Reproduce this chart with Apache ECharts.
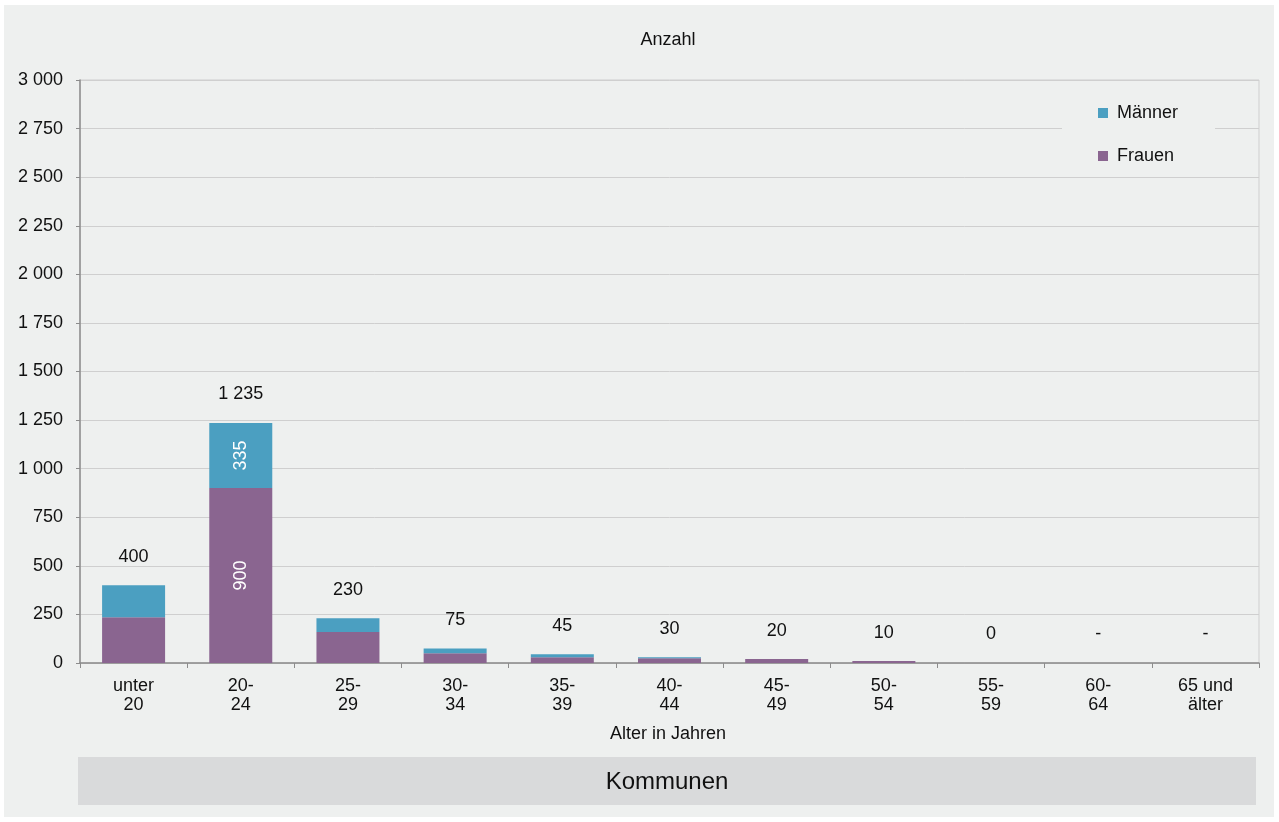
<!DOCTYPE html>
<html>
<head>
<meta charset="utf-8">
<script src="https://cdn.jsdelivr.net/npm/echarts@6/dist/echarts.min.js"></script>
<style>
html,body{margin:0;padding:0;background:#ffffff;width:1279px;height:822px;overflow:hidden;}
#panel{position:absolute;left:4px;top:5px;width:1270px;height:812px;background:#eef0ef;}
#chart{position:absolute;left:0;top:0;width:1270px;height:812px;}
</style>
</head>
<body>
<div id="panel"><div id="chart"></div></div>
<script>
const categories = ['unter\n20','20-\n24','25-\n29','30-\n34','35-\n39','40-\n44','45-\n49','50-\n54','55-\n59','60-\n64','65 und\nälter'];
const frauen = [235, 900, 160, 50, 30, 25, 20, 10, 0, 0, 0];
const maenner = [165, 335, 70, 25, 15, 5, 0, 0, 0, 0, 0];
const totalLabels = ['400','1 235','230','75','45','30','20','10','0','-','-'];
const totalValues = [400, 1235, 230, 75, 45, 30, 20, 10, 0, 0, 0];
const yTicks = { min: 0, max: 3000, interval: 250 };

const FONT = "'Liberation Sans', Arial, sans-serif";
const FS = 18;
const fmt = v => String(v).replace(/\B(?=(\d{3})+(?!\d))/g, ' ');

const chart = echarts.init(document.getElementById('chart'), null, {renderer:'canvas'});
chart.setOption({
  backgroundColor: 'transparent',
  animation: false,
  textStyle: { fontFamily: FONT, color: '#111111' },
  title: [
    { text: 'Anzahl', left: 664, top: 26, textAlign: 'center', padding: 0,
      textStyle: { fontFamily: FONT, fontSize: FS, fontWeight: 'normal', color: '#111111' } },
    { text: 'Alter in Jahren', left: 664, top: 720, textAlign: 'center', padding: 0,
      textStyle: { fontFamily: FONT, fontSize: FS, fontWeight: 'normal', color: '#111111' } }
  ],
  graphic: [
    { type: 'rect', left: 74, top: 752, shape: { width: 1178, height: 48 }, style: { fill: '#d9dadb' }, z: -1 },
    { type: 'text', x: 663, y: 777, style: { text: 'Kommunen', font: "24px 'Liberation Sans', Arial, sans-serif", fill: '#111111', textAlign: 'center', textVerticalAlign: 'middle' } }
  ],
  legend: {
    data: ['Männer', 'Frauen'],
    orient: 'vertical',
    left: 1058, top: 78,
    padding: [20, 37, 8, 36],
    backgroundColor: '#eef0ef',
    itemWidth: 10, itemHeight: 10, itemGap: 23,
    icon: 'rect',
    selectedMode: false,
    textStyle: { fontFamily: FONT, fontSize: FS, color: '#111111', lineHeight: 20, padding: [0,0,0,4] },
    z: 10
  },
  grid: { left: 76, top: 75, right: 15, bottom: 154, show: true, borderColor: '#cfcfcf', borderWidth: 1, backgroundColor: 'transparent' },
  xAxis: {
    type: 'category',
    data: categories,
    axisLine: { lineStyle: { color: '#8c8c8c', width: 1.5 } },
    axisTick: { show: true, length: 5, lineStyle: { color: '#8c8c8c' } },
    axisLabel: { fontFamily: FONT, fontSize: FS, lineHeight: 19, color: '#111111', margin: 14, interval: 0 },
    splitLine: { show: false }
  },
  yAxis: {
    type: 'value',
    min: yTicks.min, max: yTicks.max, interval: yTicks.interval,
    axisLine: { show: true, lineStyle: { color: '#8c8c8c', width: 1.5 } },
    axisTick: { show: true, length: 4, lineStyle: { color: '#8c8c8c' } },
    axisLabel: { fontFamily: FONT, fontSize: FS, color: '#111111', margin: 17, formatter: fmt },
    splitLine: { lineStyle: { color: '#cfcfcf', width: 1 } }
  },
  series: [
    {
      name: 'Frauen', type: 'bar', stack: 'a', barWidth: 63,
      data: frauen,
      itemStyle: { color: '#8a6590' },
      label: { show: true, position: 'inside', rotate: 90, color: '#ffffff', fontFamily: FONT, fontSize: FS,
        formatter: p => p.value >= 300 ? fmt(p.value) : '' }
    },
    {
      name: 'Männer', type: 'bar', stack: 'a', barWidth: 63,
      data: maenner,
      itemStyle: { color: '#4b9fc1' },
      label: { show: true, position: 'inside', rotate: 90, color: '#ffffff', fontFamily: FONT, fontSize: FS,
        formatter: p => p.value >= 300 ? fmt(p.value) : '' }
    },
    {
      name: 'Summe', type: 'scatter', symbolSize: 1,
      data: totalValues,
      itemStyle: { color: 'rgba(0,0,0,0)', opacity: 1 },
      label: { show: true, position: 'top', distance: 19, color: '#111111', opacity: 1, fontFamily: FONT, fontSize: FS,
        formatter: p => totalLabels[p.dataIndex] },
      emphasis: { disabled: true },
      z: 5
    }
  ]
});
</script>
</body>
</html>
